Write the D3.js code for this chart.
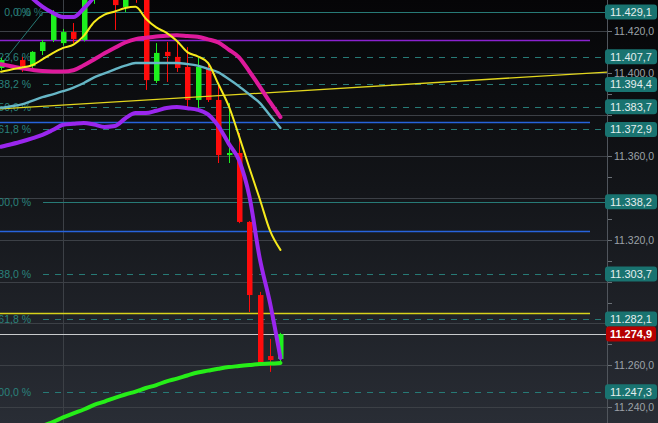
<!DOCTYPE html>
<html><head><meta charset="utf-8">
<script src="https://cdn.jsdelivr.net/npm/d3@7"></script>
<style>html,body{margin:0;padding:0;background:#0b0c0f;overflow:hidden}svg{display:block}</style>
</head><body><svg id="c" width="658" height="423"></svg>
<script>
// ---------- DATA ----------
const candleIndex = [0,2,3,4,5,6,7,8,9,10,11,12,13,14,15,16,17,18,19,20,21,22,23,24,25,26,27];
const opens  = [11402.3,11406.1,11403.2,11410.4,11415.7,11414.2,11419.5,11415.7,11437.0,11440.0,11437.0,11431.5,11442.0,11436.0,11396.1,11410.0,11407.6,11402.8,11387.0,11402.3,11387.0,11360.6,11361.6,11328.6,11293.6,11264.4,11263.0];
const highs  = [11407.1,11407.6,11410.4,11415.7,11430.0,11421.0,11423.8,11438.0,11442.0,11445.0,11440.0,11438.0,11444.0,11438.0,11414.2,11414.7,11414.7,11412.3,11407.1,11403.7,11395.1,11385.5,11371.2,11329.0,11295.1,11272.6,11275.5];
const lows   = [11401.3,11400.4,11401.3,11408.5,11414.7,11413.0,11414.2,11415.0,11433.0,11436.0,11420.5,11429.1,11433.5,11391.8,11395.1,11395.6,11400.4,11383.6,11383.1,11386.0,11356.8,11356.8,11328.0,11285.5,11261.0,11256.8,11261.6];
const closes = [11406.1,11403.2,11410.0,11414.7,11428.6,11419.5,11416.2,11436.0,11440.0,11437.0,11432.4,11436.0,11436.0,11396.5,11409.5,11408.0,11402.3,11387.0,11402.8,11387.0,11360.6,11361.6,11328.6,11293.6,11261.1,11262.5,11274.9];

const lineIndex = [0,1,2,3,4,5,6,7,8,9,10,11,12,13,14,15,16,17,18,19,20,21,22,23,24,25,26,27];
const magentaLine = [11404.1,11403.1,11402.1,11401.4,11400.8,11400.6,11400.6,11401.2,11403.6,11406.4,11409.3,11412.0,11414.5,11416.1,11416.8,11417.4,11417.7,11418.0,11417.6,11417.2,11416.0,11414.5,11411.1,11407.4,11400.6,11393.4,11385.9,11378.8];
const cyanLine    = [11383.2,11384.0,11384.9,11386.6,11388.3,11389.7,11391.2,11392.9,11395.1,11397.8,11399.7,11401.6,11403.4,11404.7,11404.7,11404.7,11404.7,11404.7,11404.2,11403.4,11401.9,11400.2,11397.0,11393.5,11389.6,11385.6,11379.5,11373.6];
const yellowLine  = [11400.5,11401.6,11402.5,11403.6,11406.4,11409.4,11411.9,11413.5,11417.7,11424.3,11427.8,11429.3,11431.0,11431.6,11425.9,11421.7,11419.1,11415.2,11409.9,11407.9,11404.7,11394.6,11384.1,11369.7,11354.4,11339.6,11324.3,11315.2];
const purpleLower = [11364.6,11365.8,11367.1,11368.6,11370.3,11372.6,11375.1,11375.6,11376.0,11375.2,11374.1,11374.5,11378.1,11380.7,11380.7,11381.8,11383.1,11383.6,11383.0,11382.3,11380.1,11374.5,11366.1,11358.1,11340.8,11311.1,11289.6,11263.5];
const upperIndex  = [0,1,2,3,4,5,6,7,8,9,10];
const purpleUpper = [11456.0,11449.0,11442.0,11435.8,11431.7,11428.7,11426.7,11426.7,11430.8,11436.3,11443.5];
const greenIndex  = [3,4,5,6,7,8,9,10,11,12,13,14,15,16,17,18,19,20,21,22,23,24,25,26,27];
const greenLine   = [11228.0,11230.9,11232.8,11235.0,11237.0,11238.8,11241.0,11242.6,11244.4,11246.0,11247.4,11249.1,11250.5,11252.3,11253.6,11255.1,11256.5,11257.4,11258.3,11259.1,11259.6,11260.1,11260.6,11260.8,11261.1];

const fibLabels = ["0,0 %","23,6 %","38,2 %","50,0 %","61,8 %","100,0 %","138,0 %","161,8 %","200,0 %"];
const fibValues = [11429.1,11407.7,11394.4,11383.7,11372.9,11338.2,11303.7,11282.1,11247.3];
const fibSolid  = [true,false,false,false,false,true,false,false,false];
const fibStartIndex = 4.06;
const fibAnchor = [[-10.6,11338.2],[4.06,11429.1]];

const purpleLevels = [11415.7];
const blueLevels   = [11376.4,11324.3];
const yellowLevels = [11285.0];
const lastPrice    = 11274.9;
const trendLine    = [[-0.1,11382.7],[58.55,11400.3]];
const vGridIndex   = [6];

const axisTicks  = [11240,11260,11280,11300,11320,11340,11360,11380,11400,11420];
const axisLabels = ["11.240,0","11.260,0","11.320,0","11.360,0","11.400,0","11.420,0"];
const labelTicks = [11240,11260,11320,11360,11400,11420];
const minorTicks = [11250,11270,11290,11310,11330,11350,11370,11390,11410,11430];

// ---------- CHART ----------
const W = 658, H = 423, axisX = 607;
const svg = d3.select("#c");
const x = d3.scaleLinear().domain([-0.0966, 58.55]).range([0, axisX]);
const y = d3.scaleLinear().domain([11240, 11420]).range([407, 31]);
const loc = d3.formatLocale({decimal:",", thousands:".", grouping:[3], currency:["",""]});
const fmt = loc.format(",.1f");
const FONT = "Liberation Sans, Arial, sans-serif";

const defs = svg.append("defs");
const g = defs.append("linearGradient").attr("id","bg").attr("x1",0).attr("y1",0).attr("x2",0).attr("y2",1);
g.append("stop").attr("offset","0%").attr("stop-color","#050507");
g.append("stop").attr("offset","45%").attr("stop-color","#131519");
g.append("stop").attr("offset","100%").attr("stop-color","#292d35");
defs.append("clipPath").attr("id","plot").append("rect").attr("x",0).attr("y",0).attr("width",axisX).attr("height",H);

svg.append("rect").attr("width",W).attr("height",H).attr("fill","url(#bg)");

const plot = svg.append("g").attr("clip-path","url(#plot)");

// grid
plot.selectAll(".hg").data(axisTicks).join("line")
  .attr("x1",0).attr("x2",axisX).attr("y1",d=>Math.round(y(d))+0.5).attr("y2",d=>Math.round(y(d))+0.5)
  .attr("stroke","#3c4046").attr("stroke-width",1);
plot.selectAll(".vg").data(vGridIndex).join("line")
  .attr("x1",d=>Math.round(x(d))+0.5).attr("x2",d=>Math.round(x(d))+0.5).attr("y1",0).attr("y2",H)
  .attr("stroke","#3c4046").attr("stroke-width",1);

// fib lines
const fibG = plot.append("g");
fibValues.forEach((v,i)=>{
  fibG.append("line").attr("x1",x(fibStartIndex)).attr("x2",605)
    .attr("y1",Math.round(y(v))+0.5).attr("y2",Math.round(y(v))+0.5)
    .attr("stroke","#277a76").attr("stroke-width",1)
    .attr("stroke-dasharray",fibSolid[i]?null:"6,6");
});
fibG.append("line").attr("x1",x(fibAnchor[0][0])).attr("y1",y(fibAnchor[0][1]))
  .attr("x2",x(fibAnchor[1][0])).attr("y2",y(fibAnchor[1][1]))
  .attr("stroke","#277a76").attr("stroke-width",1);
fibValues.forEach((v,i)=>{
  fibG.append("text").attr("x",31).attr("y",y(v)+4).attr("text-anchor","end")
    .attr("font-family",FONT).attr("font-size",10.5).attr("fill","#2a827c").text(fibLabels[i]);
});
fibG.append("text").attr("x",43).attr("y",y(fibValues[0])+4).attr("text-anchor","end")
  .attr("font-family",FONT).attr("font-size",10.5).attr("fill","#2a827c").attr("opacity",0.85).text(fibLabels[0]);

// horizontal levels
const hl = (vals,color,w)=>plot.selectAll(null).data(vals).join("line")
  .attr("x1",0).attr("x2",590).attr("y1",d=>Math.round(y(d))+0.5).attr("y2",d=>Math.round(y(d))+0.5)
  .attr("stroke",color).attr("stroke-width",w);
hl(purpleLevels,"#8a22d0",1.6);
hl(blueLevels,"#2763dc",1.6);
hl(yellowLevels,"#d8d21a",1.4);
plot.append("line").attr("x1",0).attr("x2",axisX).attr("y1",Math.round(y(lastPrice))+0.5).attr("y2",Math.round(y(lastPrice))+0.5)
  .attr("stroke","#c8cacc").attr("stroke-width",1.2);

// candles
const cd = candleIndex.map((k,i)=>({k,o:opens[i],h:highs[i],l:lows[i],c:closes[i]}));
const cg = plot.append("g");
cd.forEach(d=>{
  const col = d.c>=d.o ? "#1ef01e" : "#ff0c0c";
  const cx = x(d.k);
  cg.append("line").attr("x1",Math.round(cx)+0.5).attr("x2",Math.round(cx)+0.5)
    .attr("y1",y(d.h)).attr("y2",y(d.l)).attr("stroke",col).attr("stroke-width",1);
  const top = y(Math.max(d.o,d.c)), bot = y(Math.min(d.o,d.c));
  cg.append("rect").attr("x",Math.round(cx)-2).attr("width",5.5)
    .attr("y",top).attr("height",Math.max(1.5,bot-top)).attr("fill",col);
});

// trend line
plot.append("line").attr("x1",x(trendLine[0][0])).attr("y1",y(trendLine[0][1]))
  .attr("x2",x(trendLine[1][0])).attr("y2",y(trendLine[1][1]))
  .attr("stroke","#e2d61e").attr("stroke-width",1.3);

// indicator lines
const line = d3.line().x(d=>x(d[0])).y(d=>y(d[1])).curve(d3.curveMonotoneX);
const drawLine=(idx,vals,color,w)=>plot.append("path").datum(idx.map((k,i)=>[k,vals[i]]))
  .attr("d",line).attr("fill","none").attr("stroke",color).attr("stroke-width",w)
  .attr("stroke-linecap","round").attr("stroke-linejoin","round");
drawLine(lineIndex,cyanLine,"#66b6c6",2.4);
drawLine(lineIndex,magentaLine,"#de1a9c",4);
drawLine(upperIndex,purpleUpper,"#9a26ee",4);
drawLine(lineIndex,purpleLower,"#9a26ee",4);
drawLine(greenIndex,greenLine,"#26ee18",4);
drawLine(lineIndex,yellowLine,"#f6ea1c",2);

// right axis
svg.append("line").attr("x1",axisX+0.5).attr("x2",axisX+0.5).attr("y1",0).attr("y2",H)
  .attr("stroke","#50555c").attr("stroke-width",1);
svg.selectAll(".mt").data(axisTicks.concat(minorTicks)).join("line")
  .attr("x1",axisX+1).attr("x2",axisX+5).attr("y1",d=>Math.round(y(d))+0.5).attr("y2",d=>Math.round(y(d))+0.5)
  .attr("stroke","#6a7076").attr("stroke-width",1);
svg.selectAll(".tl").data(labelTicks).join("text")
  .attr("x",614).attr("y",d=>y(d)+4).attr("font-family",FONT).attr("font-size",10.5)
  .attr("fill","#9ca2a8").text((d,i)=>axisLabels[i]);

// badges
fibValues.forEach(v=>{
  const yy = y(v);
  svg.append("rect").attr("x",605).attr("y",yy-7.5).attr("width",52).attr("height",15).attr("rx",3)
    .attr("fill","#197370");
  svg.append("text").attr("x",631).attr("y",yy+4).attr("text-anchor","middle")
    .attr("font-family",FONT).attr("font-size",11).attr("fill","#e4eeee").text(fmt(v));
});
{
  const yy = y(lastPrice);
  svg.append("rect").attr("x",606).attr("y",yy-7.5).attr("width",50).attr("height",15).attr("rx",3)
    .attr("fill","#b50000");
  svg.append("text").attr("x",631).attr("y",yy+4).attr("text-anchor","middle")
    .attr("font-family",FONT).attr("font-size",11).attr("font-weight","bold").attr("fill","#ffffff").text(fmt(lastPrice));
}
</script></body></html>
